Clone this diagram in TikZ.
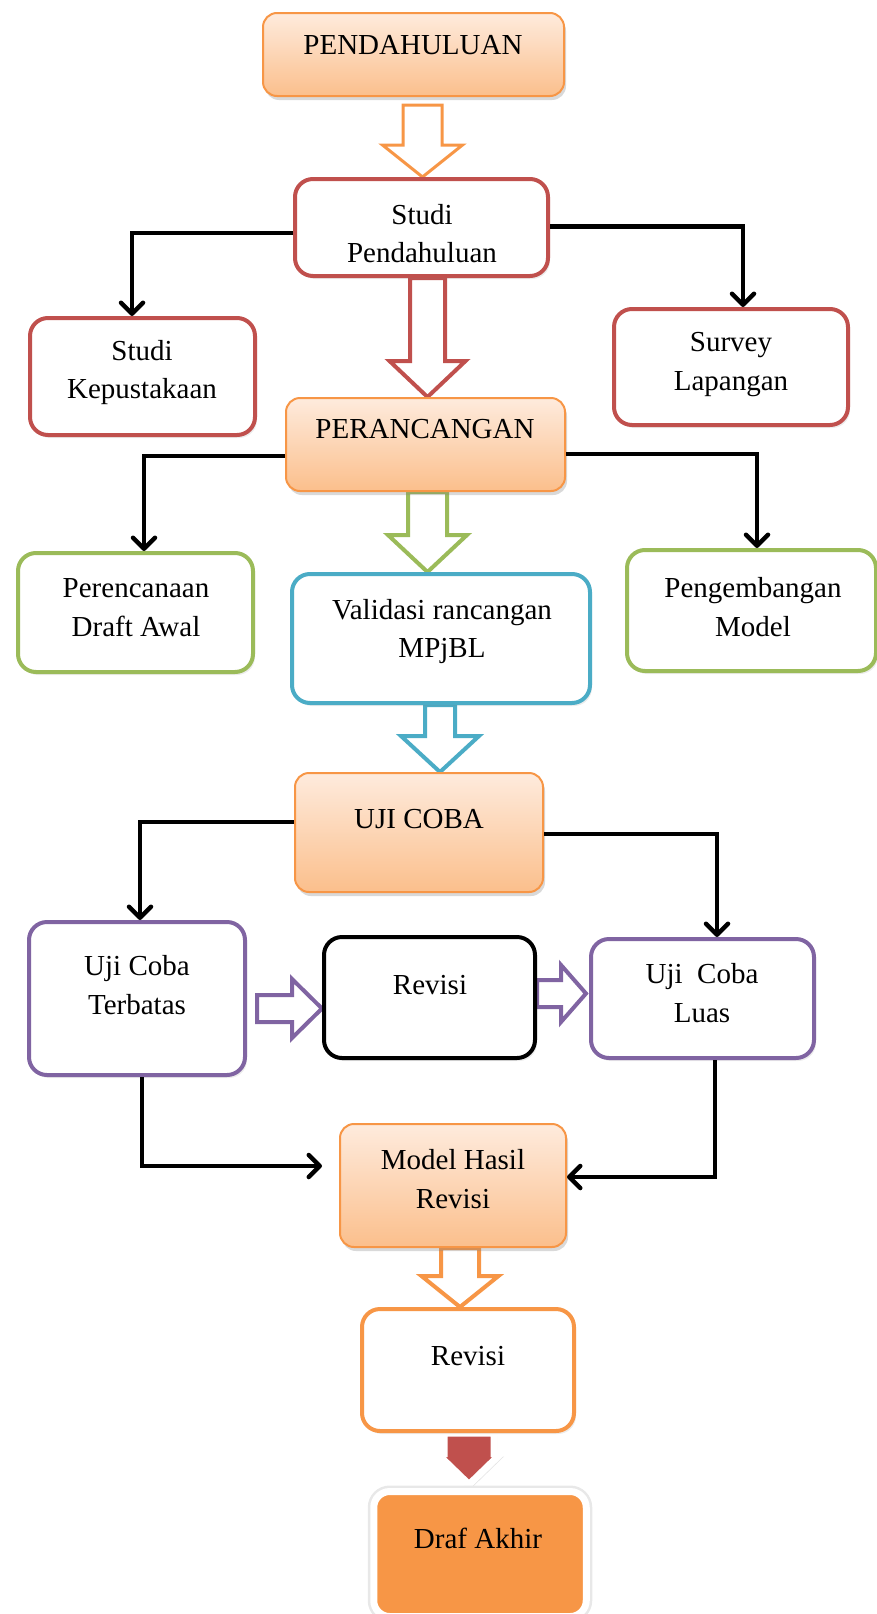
\documentclass[tikz,border=0pt]{standalone}
\usepackage{fontspec}
\setmainfont{Liberation Serif}
\usetikzlibrary{arrows.meta,shadows,calc,backgrounds}
\definecolor{cOrange}{HTML}{F79646}
\definecolor{cRed}{HTML}{C0504D}
\definecolor{cGreen}{HTML}{9BBB59}
\definecolor{cBlue}{HTML}{4BACC6}
\definecolor{cPurple}{HTML}{8064A2}
\definecolor{cTop}{HTML}{FEEBDD}
\definecolor{cBot}{HTML}{FBBF8C}
\tikzset{
  txt/.style={font=\fontsize{29}{38.5}\selectfont, align=center, inner sep=0pt},
  box/.style={draw=#1, line width=4pt, rounded corners=18pt, fill=white, inner sep=0pt,
    drop shadow={opacity=0.15, shadow xshift=2pt, shadow yshift=-3pt}},
  gbox/.style={draw=cOrange, line width=2pt, rounded corners=14pt, top color=cTop, bottom color=cBot, inner sep=0pt,
    drop shadow={opacity=0.3, shadow xshift=2pt, shadow yshift=-4pt}},
  conn/.style={line width=4.5pt, -{Straight Barb[length=11pt,width=22pt,round]}},
  harrow/.style={draw=#1, line width=4pt, fill=white, line join=miter},
  redarrow/.style={fill=cRed, draw=white, line width=7pt, line join=miter,
    drop shadow={opacity=0.22, shadow xshift=3pt, shadow yshift=-3pt}},
}
\newcommand{\BDown}[7]{\draw[#1] let \p1=(#3), \p2=(#4) in
  (#2-#5,\y1) -- (#2+#5,\y1) -- (#2+#5,\y2+#7) -- (#2+#6,\y2+#7) -- (#2,\y2)
  -- (#2-#6,\y2+#7) -- (#2-#5,\y2+#7) -- cycle;}
\newcommand{\BRight}[7]{\draw[#1] let \p1=(#3), \p2=(#4) in
  (\x1,#2-#5) -- (\x1,#2+#5) -- (\x2-#7,#2+#5) -- (\x2-#7,#2+#6) -- (\x2,#2)
  -- (\x2-#7,#2-#6) -- (\x2-#7,#2-#5) -- cycle;}
\begin{document}
\begin{tikzpicture}[x=1pt,y=-1pt]
\useasboundingbox (0,0) rectangle (876,1614);
% boxes
\node[gbox, minimum width=301pt, minimum height=83pt] (pend) at (413.5,54.5) {};
\node[txt] at (413,45) {PENDAHULUAN};
\node[box=cRed, minimum width=253pt, minimum height=97pt] (sp) at (421.5,227.5) {};
\node[txt] at (422,233.5) {Studi\\Pendahuluan};
\node[box=cRed, minimum width=225pt, minimum height=117pt] (sk) at (142.5,376.5) {};
\node[txt] at (142,372.5) {Studi\\Kepustakaan};
\node[box=cRed, minimum width=234pt, minimum height=116pt] (sl) at (731,367) {};
\node[txt] at (731,364.5) {Survey\\Lapangan};
\node[gbox, minimum width=279pt, minimum height=93pt] (perc) at (425.5,444.5) {};
\node[txt] at (425,429) {PERANCANGAN};
\node[box=cGreen, minimum width=235pt, minimum height=119pt] (pda) at (135.5,612.5) {};
\node[txt] at (136,607.5) {Perencanaan\\Draft Awal};
\node[box=cBlue, minimum width=298pt, minimum height=129pt] (val) at (441,638.5) {};
\node[txt] at (442,631.5) {Validasi rancangan\\MPjBL};
\node[box=cGreen, minimum width=249pt, minimum height=121pt] (pm) at (751.5,610.5) {};
\node[txt] at (753,607) {Pengembangan\\Model};
\node[gbox, minimum width=248pt, minimum height=119pt] (uji) at (419,832.5) {};
\node[txt] at (419,819) {UJI COBA};
\node[box=cPurple, minimum width=216pt, minimum height=153pt] (uct) at (137,998.5) {};
\node[txt] at (137,985) {Uji Coba\\Terbatas};
\node[box=black, minimum width=211pt, minimum height=121pt] (rev1) at (429.5,997.5) {};
\node[txt] at (430,985) {Revisi};
\node[box=cPurple, minimum width=223pt, minimum height=119pt] (ucl) at (702.5,998.5) {};
\node[txt] at (702,993) {Uji\ \ Coba\\Luas};
\node[gbox, minimum width=226pt, minimum height=123pt] (mhr) at (453,1185.5) {};
\node[txt] at (453,1179) {Model Hasil\\Revisi};
\node[box=cOrange, minimum width=212pt, minimum height=122pt] (rev2) at (468,1370) {};
\node[txt] at (468,1356) {Revisi};
\node[fill=cOrange, draw=white, line width=7pt, rounded corners=16pt, inner sep=0pt,
  minimum width=212.5pt, minimum height=125pt,
  preaction={draw=black!9, line width=12pt},
  drop shadow={opacity=0.25, shadow xshift=2pt, shadow yshift=-3pt}] (draf) at (480,1554) {};
\node[txt] at (478,1538) {Draf Akhir};
% block arrows
\begin{pgfonlayer}{background}
\BDown{harrow=cOrange, line width=3pt}{422.5pt}{[yshift=-8pt]pend.south}{sp.north}{19.5pt}{40pt}{32pt}
\BDown{harrow=cRed}{427.5pt}{sp.south}{perc.north}{17.5pt}{38pt}{36pt}
\BDown{harrow=cGreen}{427.5pt}{perc.south}{val.north}{19.5pt}{39.5pt}{37pt}
\BDown{harrow=cBlue}{440pt}{val.south}{uji.north}{15pt}{39pt}{36pt}
\BDown{harrow=cOrange}{460pt}{mhr.south}{rev2.north}{19pt}{38.5pt}{31pt}
\BRight{harrow=cPurple}{-1008.5pt}{[xshift=10pt]uct.east}{rev1.west}{13.5pt}{29.5pt}{30pt}
\BRight{harrow=cPurple}{-993.5pt}{rev1.east}{[xshift=-3pt]ucl.west}{13.5pt}{28.5pt}{25pt}
\BDown{redarrow}{469pt}{rev2.south}{[yshift=3.5pt]draf.north}{25pt}{32pt}{31pt}
\end{pgfonlayer}
% connectors
\draw[conn] ([yshift=-5.5pt]sp.west) -| ([xshift=-10.5pt]sk.north);
\draw[conn] ([yshift=1pt]sp.east) -| ([xshift=12pt]sl.north);
\draw[conn] ([yshift=-11.5pt]perc.west) -| ([xshift=8.5pt]pda.north);
\draw[conn] ([yshift=-9.5pt]perc.east) -| ([xshift=5.5pt]pm.north);
\draw[conn] ([yshift=10.5pt]uji.west) -| ([xshift=3pt]uct.north);
\draw[conn] ([yshift=-1.5pt]uji.east) -| ([xshift=14.5pt]ucl.north);
\draw[conn] ([xshift=5pt]uct.south) |- ([xshift=-17pt,yshift=19.5pt]mhr.west);
\draw[conn] ([xshift=12.5pt]ucl.south) |- ([yshift=8.5pt]mhr.east);
\end{tikzpicture}
\end{document}
